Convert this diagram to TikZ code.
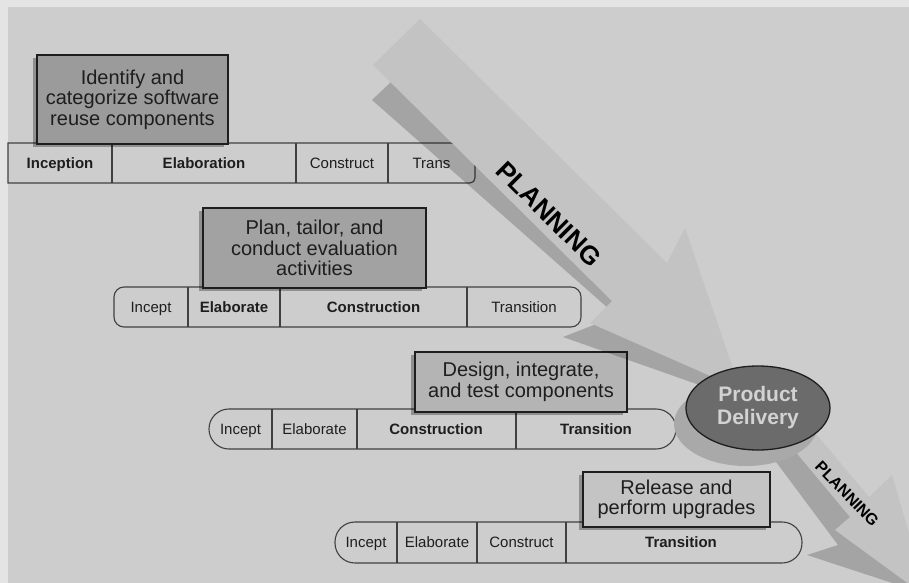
\documentclass[tikz,border=0pt]{standalone}
\usepackage{fontspec}
\setmainfont{Liberation Sans}
\usetikzlibrary{shapes.geometric,shadows}
\definecolor{frame}{HTML}{E4E4E4}
\definecolor{field}{HTML}{CDCDCD}
\definecolor{beam}{HTML}{C3C3C3}
\definecolor{ink}{HTML}{1E1E1E}
\definecolor{taskA}{HTML}{9B9B9B}
\definecolor{taskB}{HTML}{A2A2A2}
\definecolor{taskC}{HTML}{B4B4B4}
\definecolor{taskD}{HTML}{C4C4C4}
\definecolor{hub}{HTML}{6B6B6B}
\definecolor{hubtext}{HTML}{D2D2D2}
\definecolor{hubshade}{HTML}{A9A9A9}

\begin{document}
\begin{tikzpicture}[x=1bp,y=-1bp,taskbox/.style={draw=ink,line width=1.3bp,align=center,inner sep=0pt,text=ink,font=\fontsize{20bp}{20.5bp}\selectfont,drop shadow={shadow xshift=-4bp,shadow yshift=-3bp,fill=black,opacity=.3}},phasebar/.style={draw=ink!85,line width=1.1bp},phase/.style={anchor=base,inner sep=0pt,text=ink,font=\fontsize{15bp}{15bp}\selectfont},mainphase/.style={phase,font=\fontsize{15bp}{15bp}\selectfont\bfseries},planlabel/.style={text=black,inner sep=0pt,font=\bfseries}]
\useasboundingbox (0,0) rectangle (909,583);
\clip (0,0) rectangle (909,583);
\fill[frame] (0,0) rectangle (909,583);
\fill[field] (8,7) rectangle (909,583);
\draw[phasebar] (8,143) [rounded corners=5] -- (475,143) -- (475,183) [sharp corners] -- (8,183) -- cycle;
\draw[phasebar] (112,143) -- (112,183);
\draw[phasebar] (296,143) -- (296,183);
\draw[phasebar] (388,143) -- (388,183);
\node[mainphase] (inception1) at (60,168.4) {Inception};
\node[mainphase] (elaboration1) at (204,168.4) {Elaboration};
\node[phase] (construct1) at (342,168.4) {Construct};
\node[phase] (trans1) at (431.5,168.4) {Trans};
\draw[phasebar,rounded corners=10] (114,287) rectangle (581,327);
\draw[phasebar] (188,287) -- (188,327);
\draw[phasebar] (280,287) -- (280,327);
\draw[phasebar] (467,287) -- (467,327);
\node[phase] (incept2) at (151,312.4) {Incept};
\node[mainphase] (elaborate2) at (234,312.4) {Elaborate};
\node[mainphase] (construction2) at (373.5,312.4) {Construction};
\node[phase] (transition2) at (524,312.4) {Transition};
\draw[phasebar,rounded corners=20] (209,409) rectangle (676,449);
\draw[phasebar] (272,409) -- (272,449);
\draw[phasebar] (357,409) -- (357,449);
\draw[phasebar] (516,409) -- (516,449);
\node[phase] (incept3) at (240.5,434.4) {Incept};
\node[phase] (elaborate3) at (314.5,434.4) {Elaborate};
\node[mainphase] (construction3) at (436,434.4) {Construction};
\node[mainphase] (transition3) at (596,434.4) {Transition};
\draw[phasebar,rounded corners=20] (335,522) rectangle (802,563);
\draw[phasebar] (397,522) -- (397,563);
\draw[phasebar] (477,522) -- (477,563);
\draw[phasebar] (566,522) -- (566,563);
\node[phase] (incept4) at (366,547.9) {Incept};
\node[phase] (elaborate4) at (437,547.9) {Elaborate};
\node[phase] (construct4) at (521.5,547.9) {Construct};
\node[mainphase] (transition4) at (681,547.9) {Transition};
\node[taskbox,fill=taskA,minimum width=191bp,minimum height=89bp] (identify) at (132.5,99.5) {Identify and\\categorize software\\reuse components};
\node[taskbox,fill=taskB,minimum width=223bp,minimum height=80bp] (evaluate) at (314.5,248) {Plan, tailor, and\\conduct evaluation\\activities};
\node[taskbox,fill=taskC,minimum width=212bp,minimum height=60bp] (design) at (521,382) {Design, integrate,\\and test components};
\node[taskbox,fill=taskD,minimum width=187bp,minimum height=55bp] (release) at (676.5,499.5) {Release and\\perform upgrades};
\fill[black,opacity=.2] (430,45) -- (372,100) -- (617,316) -- (563,337) -- (742,400) -- (710,330) -- cycle;
\fill[beam] (420,19) -- (667,263) -- (685,228) -- (740,389) -- (590,323) -- (612,301) -- (373,65) -- cycle;
\node[planlabel,font=\fontsize{26bp}{26bp}\selectfont\bfseries,rotate=-45] (planning1) at (549,214) {PLANNING};
\fill[black,opacity=.2] (741,415) -- (838,545) -- (807,555) -- (935,597) -- (880,520) -- (790,420) -- cycle;
\fill[beam] (769,378) -- (869,497) -- (892,475) -- (928,598) -- (835,530) -- (850,517) -- (749,396) -- cycle;
\node[planlabel,font=\fontsize{16bp}{16bp}\selectfont\bfseries,rotate=-46] (planning2) at (847,494) {PLANNING};
\node[ellipse,draw=ink,line width=1.3bp,fill=hub,minimum width=144bp,minimum height=84bp,inner sep=0pt,align=center,text=hubtext,font=\fontsize{21bp}{23bp}\selectfont\bfseries,drop shadow={shadow xshift=-12bp,shadow yshift=-16bp,fill=hubshade,opacity=1}] (delivery) at (758,408) {Product\\Delivery};
\end{tikzpicture}
\end{document}
